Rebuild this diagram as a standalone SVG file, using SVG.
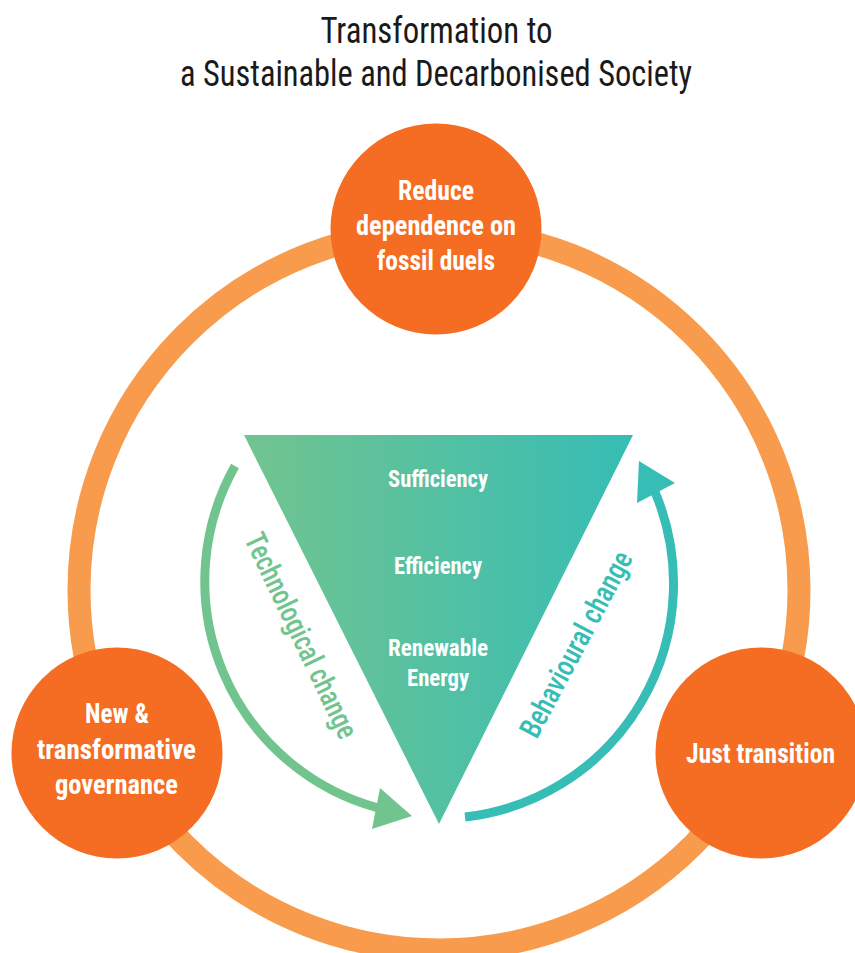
<svg xmlns="http://www.w3.org/2000/svg" width="855" height="953" viewBox="0 0 855 953">
<defs>
<linearGradient id="tri" gradientUnits="userSpaceOnUse" x1="244" y1="0" x2="633" y2="0"><stop offset="0" stop-color="#72c48f"/><stop offset="1" stop-color="#36bdb5"/></linearGradient>
<style>
text{font-family:"Roboto Condensed","Liberation Sans Narrow","Open Sans",Roboto,sans-serif;text-anchor:middle}
.t{font-size:37px;font-weight:400;fill:#1a1a1a}
.n{font-size:28px;font-weight:700;fill:#fff}
.s{font-size:24px;font-weight:700;fill:#fff}
.node{fill:#f46d22}
</style>
</defs>
<rect width="855" height="953" fill="#fff"/>
<g id="title"><text class="t" x="436.500" y="43" textLength="232" lengthAdjust="spacingAndGlyphs">Transformation to</text><text class="t" x="436" y="86" textLength="512" lengthAdjust="spacingAndGlyphs">a Sustainable and Decarbonised Society</text></g>
<g id="connectors" fill="none">
<circle cx="439" cy="590" r="360" stroke="#f89b4c" stroke-width="23"/>
<path d="M235 466A235 235 0 0 0 378 808" stroke="#72c48f" stroke-width="9"/>
<polygon points="412,816 372,829 380,788" fill="#72c48f"/>
<path d="M465 817A235 235 0 0 0 655 492" stroke="#36bdb5" stroke-width="9"/>
<polygon points="639,461 675,483 637,503" fill="#36bdb5"/>
</g>
<g id="triangle"><polygon points="244,435 633,435 439,824" fill="url(#tri)"/>
<text class="s" x="438" y="487" textLength="100" lengthAdjust="spacingAndGlyphs">Sufficiency</text><text class="s" x="438" y="574" textLength="88" lengthAdjust="spacingAndGlyphs">Efficiency</text><text class="s" x="438" y="656" textLength="100" lengthAdjust="spacingAndGlyphs">Renewable</text><text class="s" x="438" y="686" textLength="62" lengthAdjust="spacingAndGlyphs">Energy</text></g>
<g id="node-top"><circle class="node" cx="436" cy="229" r="105.500"/><text class="n" x="436" y="199.500" textLength="76" lengthAdjust="spacingAndGlyphs">Reduce</text><text class="n" x="436" y="234.500" textLength="160" lengthAdjust="spacingAndGlyphs">dependence on</text><text class="n" x="436" y="269.500" textLength="118" lengthAdjust="spacingAndGlyphs">fossil duels</text></g>
<g id="node-left"><circle class="node" cx="117" cy="753" r="105.500"/><text class="n" x="117" y="722.500" textLength="64" lengthAdjust="spacingAndGlyphs">New &amp;</text><text class="n" x="116.500" y="758.500" textLength="159" lengthAdjust="spacingAndGlyphs">transformative</text><text class="n" x="116.500" y="793.500" textLength="123" lengthAdjust="spacingAndGlyphs">governance</text></g>
<g id="node-right"><circle class="node" cx="761" cy="753" r="105.500"/><text class="n" x="760.500" y="762.500" textLength="149" lengthAdjust="spacingAndGlyphs">Just transition</text></g>
<g id="label-tech"><text transform="translate(292 640) rotate(64.500)" font-size="30" font-weight="500" fill="#72c48f" textLength="224" lengthAdjust="spacingAndGlyphs">Technological change</text></g>
<g id="label-beh"><text transform="translate(585 649) rotate(-62)" font-size="30" font-weight="500" fill="#36bdb5" textLength="206" lengthAdjust="spacingAndGlyphs">Behavioural change</text></g>
</svg>
